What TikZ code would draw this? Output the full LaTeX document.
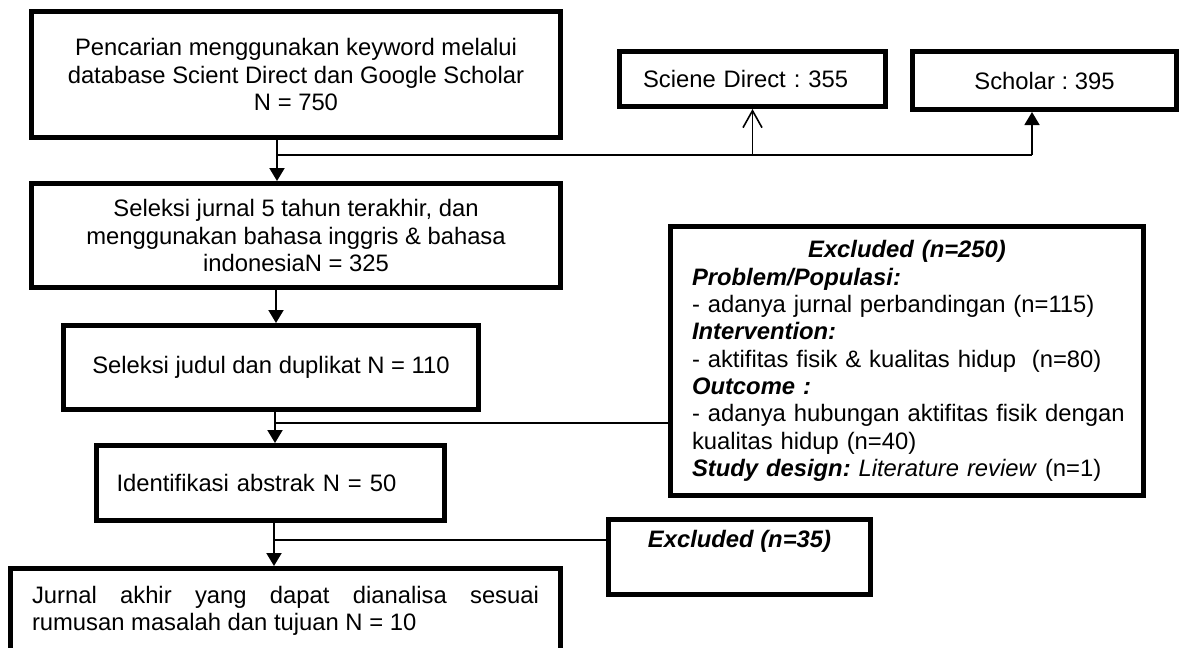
\documentclass[tikz,border=0pt]{standalone}
\usepackage{fontspec}
\setmainfont{Liberation Sans}
\frenchspacing
\hyphenpenalty=10000
\exhyphenpenalty=10000
\usetikzlibrary{arrows.meta}
\begin{document}
\begin{tikzpicture}[x=1pt,y=-1pt,
  every node/.style={font=\fontsize{23.8}{27.3}\selectfont},
  box/.style={draw=black,line width=5pt,rectangle,inner sep=0pt,align=center},
  arr/.style={line width=2pt,-{Triangle[width=15pt,length=13pt]}},
  openarr/.style={line width=1.6pt,-{Straight Barb[width=19pt,length=17pt,line width=1.6pt]}},
  branch/.style={line width=1.5pt}]
\useasboundingbox (0,0) rectangle (1181,648);
\clip (0,0) rectangle (1181,648);
\fill[white] (0,0) rectangle (1181,648);

\node[box,minimum width=529pt,minimum height=126pt] (B1) at (296,74.5)
  {Pencarian menggunakan keyword melalui\\database Scient Direct dan Google Scholar\\N = 750};
\node[box,minimum width=529pt,minimum height=104pt] (B2) at (296,235.5)
  {Seleksi jurnal 5 tahun terakhir, dan\\menggunakan bahasa inggris \& bahasa\\indonesiaN = 325};
\node[box,minimum width=415pt,minimum height=84pt] (B3) at (271,367.5)
  {Seleksi judul dan duplikat N = 110};
\node[box,minimum width=348pt,minimum height=75pt,text width=308pt,align=left] (B4) at (270.5,483)
  {Identifikasi abstrak N = 50};
\node[box,minimum width=550pt,minimum height=85pt,text width=507pt,align=justify] (B5) at (285.5,611)
  {Jurnal akhir yang dapat dianalisa sesuai rumusan masalah dan tujuan N = 10};
\node[box,minimum width=266pt,minimum height=55pt,text width=219pt,align=left] (SD) at (752.5,79)
  {Sciene Direct : 355};
\node[box,minimum width=264pt,minimum height=58pt] (SC) at (1044.5,80.5)
  {Scholar : 395};
\node[box,minimum width=473pt,minimum height=269pt,text width=430pt,align=left] (EX1) at (907,361)
  {\makebox[430pt][c]{\textbf{\textit{Excluded (n=250)}}}\\
   \textbf{\textit{Problem/Populasi:}}\\
   \mbox{- adanya jurnal perbandingan (n=115)}\\
   \textbf{\textit{Intervention:}}\\
   \mbox{- aktifitas fisik \& kualitas hidup\ \ (n=80)}\\
   \textbf{\textit{Outcome :}}\\
   \mbox{- adanya hubungan aktifitas fisik dengan}\\
   kualitas hidup (n=40)\\
   \mbox{\textbf{\textit{Study design:}} \textit{Literature review} (n=1)}};
\node[box,minimum width=262pt,minimum height=75pt] (EX2) at (739.5,557)
  {\textbf{\textit{Excluded (n=35)}}\\\strut};

\coordinate (j1) at (277,155);
\coordinate (j2) at (1032,155);
\coordinate (j3) at (275,423);
\coordinate (j4) at (274,540);

\draw[arr] (j1 |- B1.south) -- (j1 |- B2.north);
\draw[branch] (j1) -- (j2);
\draw[openarr] (j1 -| SD.south) -- (SD.south);
\draw[arr,line width=1.6pt] (j2) -- (j2 |- SC.south);
\draw[arr] (276,0 |- B2.south) -- (276,0 |- B3.north);
\draw[arr] (j3 |- B3.south) -- (j3 |- B4.north);
\draw[branch] (j3) -- (j3 -| EX1.west);
\draw[arr] (j4 |- B4.south) -- (j4 |- B5.north);
\draw[branch] (j4) -- (j4 -| EX2.west);
\end{tikzpicture}
\end{document}
